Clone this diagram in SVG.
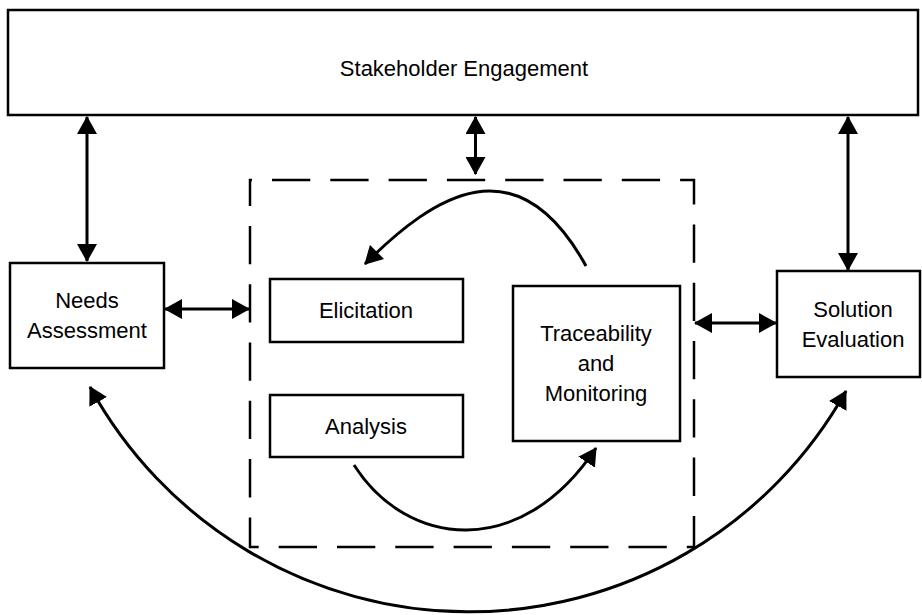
<svg xmlns="http://www.w3.org/2000/svg" width="922" height="615" viewBox="0 0 922 615">
<style>
.box{fill:#fff;stroke:#000;stroke-width:2.5}
.lbl{font-family:"Liberation Sans",Arial,sans-serif;font-size:22px;fill:#000;text-anchor:middle}
.conn{fill:none;stroke:#000;stroke-width:3}
.dbl{marker-start:url(#ah);marker-end:url(#ah)}
.one{marker-end:url(#ah)}
.dash{fill:none;stroke:#000;stroke-width:2.5;stroke-dasharray:38.3 20;stroke-dashoffset:36.3}
</style>
<defs>
<marker id="ah" viewBox="0 0 18 20" refX="17" refY="10" markerWidth="18" markerHeight="20" markerUnits="userSpaceOnUse" orient="auto-start-reverse">
<path d="M0,0 L18,10 L0,20 Z" fill="#000"/>
</marker>
</defs>
<rect width="922" height="615" fill="#fff"/>
<g id="stakeholder-engagement">
<rect class="box" x="8" y="10" width="910" height="105"/>
<text class="lbl" x="464" y="76">Stakeholder Engagement</text>
</g>
<g id="core-area">
<rect class="dash" x="250" y="180" width="444" height="367"/>
</g>
<g id="needs-assessment">
<rect class="box" x="10" y="263" width="154" height="105"/>
<text class="lbl" x="87" y="308">Needs</text>
<text class="lbl" x="87" y="338">Assessment</text>
</g>
<g id="elicitation">
<rect class="box" x="270" y="279" width="193" height="63"/>
<text class="lbl" x="366" y="318">Elicitation</text>
</g>
<g id="analysis">
<rect class="box" x="270" y="395" width="193" height="62"/>
<text class="lbl" x="366" y="434">Analysis</text>
</g>
<g id="traceability-monitoring">
<rect class="box" x="513" y="286" width="167" height="155"/>
<text class="lbl" x="596" y="341">Traceability</text>
<text class="lbl" x="596" y="371">and</text>
<text class="lbl" x="596" y="401">Monitoring</text>
</g>
<g id="solution-evaluation">
<rect class="box" x="777" y="271" width="143" height="106"/>
<text class="lbl" x="853" y="317">Solution</text>
<text class="lbl" x="853" y="347">Evaluation</text>
</g>
<g id="connectors">
<line class="conn dbl" x1="87" y1="117" x2="87" y2="261"/>
<line class="conn dbl" x1="475.5" y1="117" x2="475.5" y2="174"/>
<line class="conn dbl" x1="848" y1="117" x2="848" y2="270"/>
<line class="conn dbl" x1="165" y1="309" x2="249" y2="309"/>
<line class="conn dbl" x1="695" y1="323" x2="776" y2="323"/>
<path class="conn one" d="M586,266 C517,141 434,195 365,264"/>
<path class="conn one" d="M354,465 C407,548 521,561 596,448"/>
<path class="conn dbl" d="M90,387 A432,432 0 0 0 846,391"/>
</g>
</svg>
